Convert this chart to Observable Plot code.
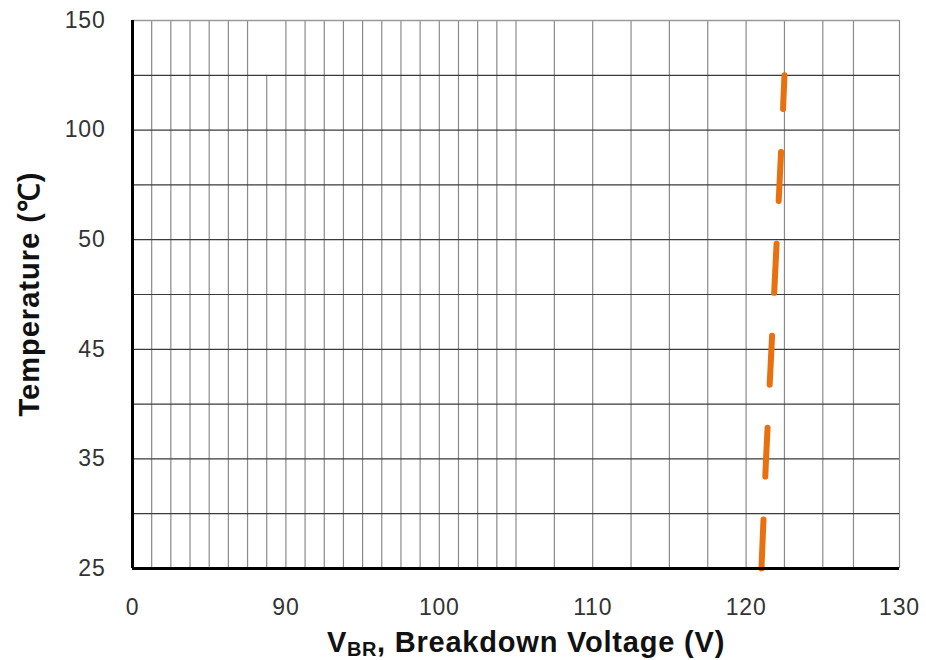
<!DOCTYPE html>
<html>
<head>
<meta charset="utf-8">
<script src="https://cdn.jsdelivr.net/npm/d3@7"></script>
<script src="https://cdn.jsdelivr.net/npm/@observablehq/plot@0.6"></script>
<style>
  body { margin: 0; background: #fff; font-family: Arial, "Liberation Sans", sans-serif; }
  #wrap { width: 926px; position: relative; }
  #chart svg { display: block; }
  #xtitle {
    box-sizing: border-box;
    width: 926px;
    padding-left: 126px;
    margin-top: 8px;
    text-align: center;
    font-size: 29px;
    line-height: 29px;
    letter-spacing: 0.8px;
    font-weight: bold;
    color: #111;
    white-space: nowrap;
  }
  #xtitle .sub { font-size: 20px; position: relative; top: 4px; letter-spacing: 0.5px; }
  #ytitle {
    position: absolute;
    left: 29px;
    top: 294px;
    transform: translate(-50%, -50%) rotate(-90deg);
    font-size: 29px;
    line-height: 29px;
    letter-spacing: 1px;
    font-weight: bold;
    color: #111;
    white-space: nowrap;
  }
</style>
</head>
<body>
<div id="wrap">
  <div id="chart"></div>
  <div id="xtitle">V<span class="sub">BR</span>, Breakdown Voltage (V)</div>
  <div id="ytitle">Temperature (℃)</div>
</div>
<script>
// Axis tick labels (broken / category-like axes, equally spaced)
const xTickLabels = [0, 90, 100, 110, 120, 130];
const yTickLabels = [25, 35, 45, 50, 100, 150];

// Series: breakdown voltage vs temperature
const temperature = [25, 35, 45, 50, 100, 125];
const breakdownVoltage = [121.0, 121.3, 121.65, 122.0, 122.35, 122.5];

// Grid lines (in axis units)
const xGridFull = [11.25, 22.5, 33.75, 45, 56.25, 67.5, 90, 91.25, 92.5, 93.75, 95, 96.25, 97.5, 98.75, 100,
  101.25, 102.5, 103.75, 105, 107.5, 110, 112.5, 115, 117.5, 120, 122.5, 125, 127, 130];
const xGridPartial = [78.75];
const yGrid = [30, 35, 40, 45, 47.5, 50, 75, 100, 125];
const yTop = [150];

const data = temperature.map((t, i) => ({t, v: breakdownVoltage[i]}));

// piecewise mapping of the broken axes onto equally spaced positions
const vx = d3.scaleLinear().domain(xTickLabels).range(xTickLabels.map((_, i) => i));
const ty = d3.scaleLinear().domain(yTickLabels).range(yTickLabels.map((_, i) => i));

const chart = Plot.plot({
  width: 926,
  height: 620,
  marginLeft: 132,
  marginRight: 27,
  marginTop: 20,
  marginBottom: 52,
  x: {domain: [0, xTickLabels.length - 1]},
  y: {domain: [0, yTickLabels.length - 1]},
  style: {fontFamily: "Arial, 'Liberation Sans', sans-serif", fontSize: "23px", letterSpacing: "0.8px", color: "#333", background: "#fff"},
  marks: [
    Plot.ruleX(xGridFull, {x: d => vx(d), stroke: "#8a8a8a", strokeWidth: 1.2}),
    Plot.ruleX(xGridPartial, {x: d => vx(d), y1: 0, y2: ty(125), stroke: "#8a8a8a", strokeWidth: 1.2}),
    Plot.ruleY(yGrid, {y: d => ty(d), stroke: "#3a3a3a", strokeWidth: 1.2}),
    Plot.ruleY(yTop, {y: d => ty(d), stroke: "#9a9a9a", strokeWidth: 1.5}),
    Plot.axisX({
      ticks: xTickLabels.map(d => vx(d)),
      tickFormat: d => xTickLabels[Math.round(d)],
      tickSize: 0, tickPadding: 30, fontSize: 23, label: null, fill: "#333"
    }),
    Plot.axisY({
      ticks: yTickLabels.map(d => ty(d)),
      tickFormat: d => yTickLabels[Math.round(d)],
      tickSize: 0, tickPadding: 27, fontSize: 23, label: null, fill: "#333"
    }),
    Plot.line(data, {
      x: d => vx(d.v), y: d => ty(d.t),
      stroke: "#E8700E", strokeWidth: 6, strokeDasharray: "49,43", strokeLinecap: "round"
    }),
    Plot.ruleX([0], {x: d => vx(d), stroke: "#000", strokeWidth: 3}),
    Plot.ruleY([25], {y: d => ty(d), stroke: "#000", strokeWidth: 3})
  ]
});
document.getElementById("chart").appendChild(chart);
</script>
</body>
</html>
